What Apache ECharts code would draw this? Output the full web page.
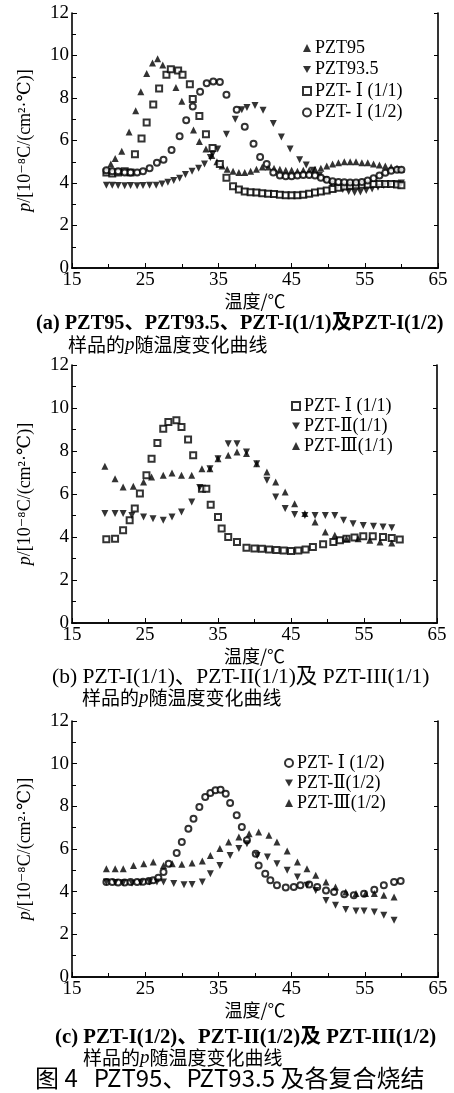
<!DOCTYPE html>
<html>
<head>
<meta charset="utf-8">
<script src="https://cdn.jsdelivr.net/npm/echarts@6/dist/echarts.min.js"></script>
<style>html,body{margin:0;padding:0;background:#fff;}#c{width:454px;height:1093px;}</style>
</head>
<body>
<div id="c"></div>
<script>
// ---------- DATA ----------
const xTicks = [15, 25, 35, 45, 55, 65];
const yTicks = [0, 2, 4, 6, 8, 10, 12];

// Panel (a)
const a_PZT95 = [[19.7,4.6],[20.3,4.9],[20.9,5.15],[21.8,5.5],[22.8,6.4],[23.7,7.4],[24.4,8.3],[25.2,9.15],[26.0,9.65],[26.7,9.85],[27.4,9.55],[29.2,8.5],[30.0,7.85],[31.6,6.5],[32.4,5.95],[33.3,5.6],[34.1,5.3],[34.8,5.0],[35.5,4.8],[36.2,4.65],[37,4.55],[37.8,4.5],[38.6,4.5],[39.4,4.55],[40.2,4.65],[41,4.75],[41.8,4.75],[42.6,4.7],[43.4,4.65],[44.2,4.6],[45,4.6],[45.8,4.55],[46.6,4.6],[47.4,4.6],[48.2,4.65],[49,4.7],[49.8,4.8],[50.6,4.9],[51.4,4.95],[52.2,5.0],[53,5.0],[53.8,5.0],[54.6,4.95],[55.4,4.95],[56.2,4.9],[57,4.85],[57.8,4.8],[58.6,4.75],[59.4,4.7],[60,4.65]];
const a_PZT935 = [[19.7,3.9],[20.5,3.9],[21.3,3.88],[22.2,3.87],[23,3.88],[23.9,3.87],[24.7,3.88],[25.6,3.9],[26.5,3.9],[27.3,3.95],[28.1,4.03],[28.9,4.12],[29.7,4.22],[30.5,4.4],[31.4,4.55],[32.3,4.7],[33.1,4.9],[33.9,5.2],[34.2,5.35],[34.9,5.6],[36.1,6.3],[37.3,7.0],[38.2,7.45],[38.9,7.55],[40,7.65],[41.1,7.42],[42.5,6.8],[43.6,6.16],[44.8,5.6],[46.1,5.1],[47,4.85],[47.9,4.6],[48.8,4.35],[49.6,4.15],[50.4,3.95],[51.2,3.8],[52,3.7],[52.8,3.6],[53.6,3.55],[54.4,3.58],[55.2,3.65],[56,3.72],[56.8,3.8],[57.6,3.88],[58.4,3.93],[59.2,3.97],[60,4.0]];
const a_PZTI11 = [[19.7,4.5],[20.5,4.45],[21.3,4.5],[22.2,4.55],[23,4.5],[23.6,5.35],[24.5,6.1],[25.2,6.85],[26.1,7.7],[26.9,8.45],[27.9,9.1],[28.5,9.35],[29.5,9.3],[30.1,9.1],[31.1,8.65],[31.5,7.95],[32.4,7.15],[33.3,6.3],[34.2,5.65],[35.2,4.9],[36.1,4.25],[37,3.85],[37.8,3.7],[38.6,3.6],[39.4,3.57],[40.2,3.55],[41,3.52],[41.8,3.5],[42.6,3.48],[43.4,3.45],[44.2,3.42],[45,3.42],[45.8,3.42],[46.6,3.45],[47.4,3.5],[48.2,3.55],[49,3.6],[49.8,3.65],[50.6,3.72],[51.4,3.78],[52.2,3.83],[53,3.87],[53.8,3.9],[54.6,3.92],[55.4,3.93],[56.2,3.95],[57,3.95],[57.8,3.95],[58.6,3.95],[59.4,3.93],[60,3.9]];
const a_PZTI12 = [[19.7,4.6],[20.5,4.55],[21.3,4.55],[22.2,4.5],[23,4.5],[23.9,4.5],[24.7,4.55],[25.6,4.7],[26.6,4.95],[27.5,5.1],[28.6,5.55],[29.7,6.2],[30.6,6.95],[31.5,7.6],[32.5,8.3],[33.4,8.7],[34.3,8.78],[35.2,8.75],[36.1,8.15],[37.5,7.45],[38.6,6.65],[39.8,5.85],[40.7,5.22],[41.6,4.9],[42.5,4.5],[43.4,4.35],[44.2,4.32],[45,4.32],[45.8,4.35],[46.6,4.38],[47.4,4.38],[48.2,4.35],[49,4.25],[49.8,4.15],[50.6,4.08],[51.4,4.05],[52.2,4.03],[53,4.02],[53.8,4.02],[54.6,4.05],[55.4,4.12],[56.2,4.22],[57,4.35],[57.8,4.48],[58.6,4.58],[59.4,4.62],[60,4.62]];

// Panel (b)
const b_PZTI11 = [[19.7,3.89],[20.9,3.92],[22,4.31],[22.9,4.78],[23.6,5.32],[24.3,6.02],[25.2,6.87],[25.9,7.64],[26.7,8.37],[27.5,9.04],[28.2,9.35],[29.3,9.43],[30,9.12],[30.9,8.53],[31.6,7.8],[32.8,6.25],[33.4,6.25],[34,5.5],[35,4.93],[35.5,4.39],[36.4,4.0],[37.6,3.77],[38.9,3.5],[40,3.46],[41,3.45],[42,3.42],[43,3.4],[44,3.37],[45,3.35],[46,3.37],[47,3.42],[48,3.53],[49.4,3.66],[50.8,3.77],[51.7,3.85],[52.6,3.92],[53.7,3.98],[54.9,4.03],[56.2,4.03],[57.6,4.0],[58.8,3.95],[59.9,3.88]];
const b_PZTII11 = [[19.5,5.09],[20.9,5.09],[22,5.09],[23.2,5.0],[24.8,4.93],[26.1,4.85],[27.5,4.78],[28.7,4.93],[30,5.16],[31.4,5.63],[32.5,6.3],[33.9,7.18],[35,7.64],[36.4,8.34],[37.6,8.34],[38.9,7.95],[40.3,7.41],[41.7,6.64],[42.9,5.86],[44.2,5.32],[45.5,5.05],[46.9,5.0],[48.3,5.0],[49.7,5.0],[51,5.0],[52.2,4.78],[53.5,4.62],[54.9,4.54],[56.3,4.5],[57.6,4.47],[58.8,4.43]];
const b_PZTIII11 = [[19.5,7.29],[20.9,6.71],[22,6.33],[23.4,6.36],[24.8,6.56],[25.9,6.79],[27.5,6.87],[28.7,6.98],[30,6.87],[31.4,6.87],[32.8,7.18],[33.9,7.18],[35,7.64],[36.4,7.8],[37.6,7.95],[38.9,7.88],[40.3,7.41],[41.7,7.02],[42.9,6.56],[44.2,6.09],[45.5,5.55],[46.9,5.09],[48.3,4.7],[49.7,4.23],[51,4.08],[52.6,3.92],[54.2,3.92],[55.8,3.85],[57.2,3.77],[58.8,3.72]];

// Panel (c)
const c_PZTI12 = [[19.7,4.45],[20.5,4.45],[21.3,4.43],[22.2,4.43],[23,4.45],[23.9,4.45],[24.7,4.47],[25.5,4.5],[26.1,4.53],[26.8,4.65],[27.5,4.92],[28.2,5.31],[29.3,5.81],[30,6.33],[30.9,6.95],[31.6,7.42],[32.4,7.97],[33.2,8.44],[33.9,8.63],[34.6,8.75],[35.3,8.78],[36,8.59],[36.6,8.16],[37.5,7.58],[38.2,7.03],[38.9,6.41],[40.1,5.78],[40.5,5.23],[41.4,4.84],[42.1,4.53],[43,4.3],[44.2,4.19],[45.3,4.22],[46.2,4.3],[47.4,4.34],[48.5,4.22],[49.7,4.06],[50.8,3.98],[52.2,3.88],[53.5,3.83],[54.9,3.9],[56.3,4.09],[57.6,4.3],[59,4.45],[59.9,4.5]];
const c_PZTII12 = [[19.7,4.45],[20.9,4.43],[22,4.42],[23.2,4.4],[24.4,4.42],[25.6,4.45],[26.6,4.45],[27.5,4.45],[28.9,4.38],[30.3,4.33],[31.4,4.34],[32.8,4.45],[33.9,4.84],[35.2,5.23],[36.6,5.7],[37.8,6.02],[38.9,6.25],[40.3,5.7],[41.7,5.63],[43,5.31],[44.4,5.0],[45.8,4.69],[47.1,4.3],[48.3,4.06],[49.7,3.59],[51,3.36],[52.4,3.16],[53.8,3.09],[54.9,3.09],[56.3,3.05],[57.6,2.89],[59,2.66]];
const c_PZTIII12 = [[19.7,5.08],[20.9,5.08],[22,5.08],[23.4,5.23],[24.8,5.31],[26.1,5.39],[27.5,5.23],[28.7,5.31],[30,5.28],[31.4,5.34],[32.8,5.44],[33.9,5.7],[35.2,6.02],[36.4,6.33],[37.8,6.56],[39.2,6.72],[40.5,6.8],[41.9,6.64],[43,6.33],[44.4,5.91],[45.8,5.39],[47.1,5.08],[48.3,4.77],[49.7,4.45],[51,4.22],[52.4,3.98],[53.8,3.91],[55.1,3.91],[56.3,3.91],[57.6,3.83],[59,3.75]];

// ---------- TEXT ----------
const xName = '温度/℃';
const captions = [
  ['(a) PZT95、PZT93.5、PZT-I(1/1)及PZT-I(1/2)', ['样品的', 'p', '随温度变化曲线']],
  ['(b) PZT-I(1/1)、PZT-II(1/1)及 PZT-III(1/1)', ['样品的', 'p', '随温度变化曲线']],
  ['(c) PZT-I(1/2)、PZT-II(1/2)及 PZT-III(1/2)', ['样品的', 'p', '随温度变化曲线']]
];
const figTitle = '图 4   PZT95、PZT93.5 及各复合烧结';

// ---------- CHART ----------
const SERIF = '"Liberation Serif", "DejaVu Serif", "Noto Sans CJK SC", serif';
const CJK = '"Noto Sans CJK SC", "Liberation Serif", serif';
const DOWN = 'path://M0,0L10,0L5,9Z';
const sym = {
  up:   {symbol: 'triangle', symbolSize: 7, itemStyle: {color: '#000'}},
  down: {symbol: DOWN, symbolSize: 7, itemStyle: {color: '#000'}},
  sq:   {symbol: 'emptyRect', symbolSize: 6, itemStyle: {color: '#000', borderWidth: 1.8}},
  circ: {symbol: 'emptyCircle', symbolSize: 6, itemStyle: {color: '#000', borderWidth: 2.2}}
};

const grids = [
  {left: 72, right: 16, top: 13, height: 255},
  {left: 72, right: 17, top: 365, height: 258},
  {left: 72, right: 16, top: 721, height: 256}
];

const xAxes = [], yAxes = [];
grids.forEach((g, i) => {
  xAxes.push({
    gridIndex: i, type: 'value', min: xTicks[0], max: xTicks[xTicks.length - 1], interval: 10,
    name: xName, nameLocation: 'middle', nameGap: 24,
    nameTextStyle: {fontFamily: CJK, fontSize: 18, color: '#000'},
    axisLine: {show: true, onZero: false, lineStyle: {color: '#000', width: 1.6}},
    axisTick: {show: true, inside: true, length: 5, lineStyle: {color: '#000'}},
    minorTick: {show: true, splitNumber: 2, length: 4, lineStyle: {color: '#000'}},
    axisLabel: {fontFamily: SERIF, fontSize: 19, color: '#000', margin: 3},
    splitLine: {show: false}
  });
  yAxes.push({
    gridIndex: i, type: 'value', min: yTicks[0], max: yTicks[yTicks.length - 1], interval: 2,
    name: '{i|p}/[10⁻⁸C/(cm²·℃)]', nameLocation: 'middle', nameGap: 38, nameRotate: 90,
    nameTextStyle: {fontFamily: SERIF, fontSize: 18, color: '#000',
      rich: {i: {fontFamily: SERIF, fontStyle: 'italic', fontSize: 18, color: '#000'}}},
    axisLine: {show: true, onZero: false, lineStyle: {color: '#000', width: 1.6}},
    axisTick: {show: true, inside: true, length: 5, lineStyle: {color: '#000'}},
    minorTick: {show: true, splitNumber: 2, length: 4, lineStyle: {color: '#000'}},
    axisLabel: {fontFamily: SERIF, fontSize: 19, color: '#000', margin: 3},
    splitLine: {show: false}
  });
  yAxes.push({
    gridIndex: i, type: 'value', position: 'right', min: yTicks[0], max: yTicks[yTicks.length - 1], interval: 2,
    axisLine: {show: true, lineStyle: {color: '#000', width: 1.6}},
    axisTick: {show: true, inside: true, length: 4, lineStyle: {color: '#000'}},
    axisLabel: {show: false}, splitLine: {show: false}
  });
  xAxes.push({
    gridIndex: i, type: 'value', position: 'top', min: xTicks[0], max: xTicks[xTicks.length - 1], interval: 10,
    axisLine: {show: true, lineStyle: {color: '#000', width: 1.6}},
    axisTick: {show: false}, axisLabel: {show: false}, splitLine: {show: false}
  });
});

function sc(name, data, panel, s) {
  return Object.assign({
    type: 'scatter', name: name, data: data,
    xAxisIndex: panel * 2, yAxisIndex: panel * 2
  }, s);
}

const series = [
  sc('PZT95', a_PZT95, 0, sym.up),
  sc('PZT93.5', a_PZT935, 0, sym.down),
  sc('PZT- Ⅰ (1/1)', a_PZTI11, 0, sym.sq),
  sc('PZT- Ⅰ (1/2)', a_PZTI12, 0, sym.circ),
  sc('PZT- Ⅰ (1/1)', b_PZTI11, 1, sym.sq),
  sc('PZT-Ⅱ(1/1)', b_PZTII11, 1, sym.down),
  sc('PZT-Ⅲ(1/1)', b_PZTIII11, 1, sym.up),
  sc('PZT- Ⅰ (1/2)', c_PZTI12, 2, sym.circ),
  sc('PZT-Ⅱ(1/2)', c_PZTII12, 2, sym.down),
  sc('PZT-Ⅲ(1/2)', c_PZTIII12, 2, sym.up)
];

function legendBase(gap) {
  return {
    orient: 'vertical', itemWidth: 8, itemHeight: 8, itemGap: gap, selectedMode: false,
    textStyle: {fontFamily: SERIF, fontSize: 18, color: '#000', padding: [0, 0, 0, -1]}
  };
}
const legends = [
  Object.assign({left: 297, top: 34, data: ['PZT95', 'PZT93.5', 'PZT- Ⅰ (1/1)', 'PZT- Ⅰ (1/2)']}, legendBase(3.5)),
  Object.assign({left: 286, top: 392, data: ['PZT- Ⅰ (1/1)', 'PZT-Ⅱ(1/1)', 'PZT-Ⅲ(1/1)']}, legendBase(2)),
  Object.assign({left: 279, top: 749, data: ['PZT- Ⅰ (1/2)', 'PZT-Ⅱ(1/2)', 'PZT-Ⅲ(1/2)']}, legendBase(2))
];

const capY = [[325, 346], [678, 699], [1038, 1059]];
const capX = [[36, 68], [52, 82], [55, 83]];
const capFont = ['bold 20.3px ', '21.5px ', 'bold 20.8px '];
const graphics = [];
captions.forEach((c, i) => {
  graphics.push({type: 'text', left: capX[i][0], top: capY[i][0] - 11,
    style: {text: c[0], font: capFont[i] + SERIF, fill: '#000'}});
  graphics.push({type: 'text', left: capX[i][1], top: capY[i][1] - 11,
    style: {text: '{a|' + c[1][0] + '}{b|' + c[1][1] + '}{a|' + c[1][2] + '}', fill: '#000',
      rich: {a: {fontFamily: CJK, fontSize: 19, fill: '#000'},
             b: {fontFamily: SERIF, fontStyle: 'italic', fontSize: 19, fill: '#000'}}}});
});
graphics.push({type: 'text', left: 35, top: 1066,
  style: {text: figTitle, font: '24px ' + CJK, fill: '#000'}});

const chart = echarts.init(document.getElementById('c'), null, {renderer: 'canvas'});
chart.setOption({
  animation: false,
  backgroundColor: '#fff',
  grid: grids,
  xAxis: xAxes,
  yAxis: yAxes,
  legend: legends,
  series: series,
  graphic: graphics
});
</script>
</body>
</html>
